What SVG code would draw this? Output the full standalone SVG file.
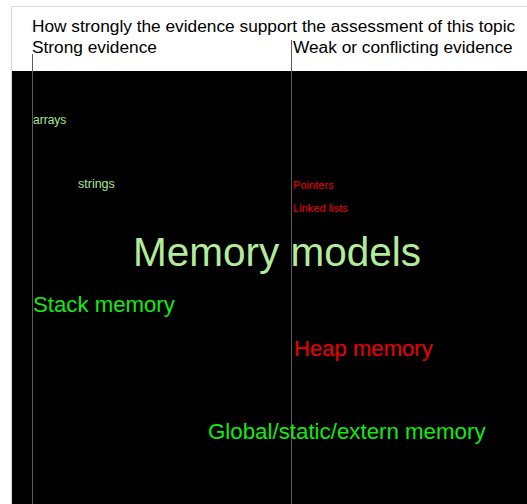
<svg xmlns="http://www.w3.org/2000/svg" width="527" height="504" viewBox="0 0 527 504">
  <style>
    text { font-family: "Liberation Sans", Arial, sans-serif; }
    .head { font-size: 17.3px; fill: #000; }
    .pale { fill: #aae892; }
    .green { fill: #12ea12; }
    .red { fill: #f00000; }
    .axis { stroke: #5c5c5c; stroke-width: 1; fill: none; }
  </style>
  <!-- page background and frame -->
  <rect x="0" y="0" width="527" height="504" fill="#ffffff"/>
  <path d="M11.5 504 V6.5 H527" fill="none" stroke="#d8d8d8" stroke-width="1.2"/>
  <rect x="12" y="71" width="515" height="433" fill="#000000"/>

  <!-- header -->
  <g id="header">
    <text class="head" x="32" y="32.3">How strongly the evidence support the assessment of this topic</text>
    <text class="head" x="32" y="53.3">Strong evidence</text>
    <text class="head" x="293" y="53.3">Weak or conflicting evidence</text>
  </g>

  <!-- scale guide lines -->
  <g id="connectors">
    <line class="axis" x1="32.5" y1="54" x2="32.5" y2="504"/>
    <line class="axis" x1="291.5" y1="40" x2="291.5" y2="504"/>
  </g>

  <!-- topics -->
  <g id="arrays"><text class="pale" x="33" y="124" font-size="12">arrays</text></g>
  <g id="strings"><text class="pale" x="78" y="188" font-size="12.5">strings</text></g>
  <g id="pointers"><text class="red" x="293" y="188.5" font-size="11.1">Pointers</text></g>
  <g id="linked-lists"><text class="red" x="293" y="211.5" font-size="11.1">Linked lists</text></g>
  <g id="memory-models"><text class="pale" x="133" y="266" font-size="40.5" style="fill:#b2ec9a">Memory models</text></g>
  <g id="stack-memory"><text class="green" x="33" y="311.7" font-size="22.2">Stack memory</text></g>
  <g id="heap-memory"><text class="red" x="294" y="355.5" font-size="22.1">Heap memory</text></g>
  <g id="global-memory"><text class="green" x="208" y="439.3" font-size="22.3">Global/static/extern memory</text></g>
</svg>
